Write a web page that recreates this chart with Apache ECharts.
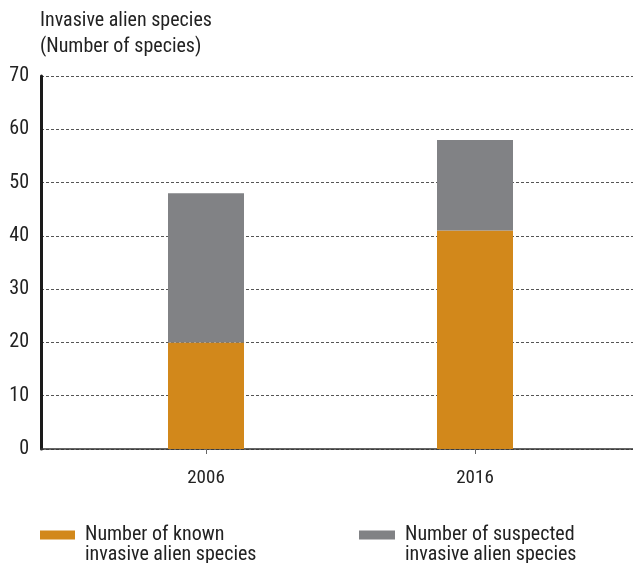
<!DOCTYPE html>
<html>
<head>
<meta charset="utf-8">
<script src="https://cdn.jsdelivr.net/npm/echarts@6/dist/echarts.min.js"></script>
<style>
  html, body { margin: 0; padding: 0; background: #fff; }
  #chart { width: 633px; height: 563px; }
</style>
</head>
<body>
<div id="chart"></div>
<script>
// Survey years and species counts
const years = ['2006', '2016'];
const knownSpecies = [20, 41];
const suspectedSpecies = [28, 17];
const seriesNames = ['Number of known\ninvasive alien species', 'Number of suspected\ninvasive alien species'];
const axisTitle = 'Invasive alien species\n(Number of species)';

const FONT = '"Roboto Condensed", "Liberation Sans Narrow", sans-serif';
const ORANGE = '#d2881b';
const GREY = '#818285';
const TEXT = '#222';

const chart = echarts.init(document.getElementById('chart'), null, { renderer: 'canvas' });

// Shared vertical extent for both grids
const plotTop = 76;
const plotBottom = 114;

const legendText = {
  fontFamily: FONT, fontSize: 20, color: TEXT, lineHeight: 20,
  padding: [0, 0, 0, 5]
};
// a leading empty line keeps the swatch level with the label's first line
const legendFormatter = (name) => '\n' + name;

chart.setOption({
  animation: false,
  backgroundColor: '#fff',
  textStyle: { fontFamily: FONT },
  title: {
    text: axisTitle,
    left: 40,
    top: 8,
    padding: 0,
    textStyle: { fontFamily: FONT, fontSize: 20, fontWeight: 'normal', color: TEXT, lineHeight: 26 }
  },
  grid: [
    // frame grid: value axis, gridlines and baseline
    { left: 41, right: 0, top: plotTop, bottom: plotBottom },
    // bar grid: category bands centred under each survey year
    { left: 71.5, width: 538, top: plotTop, bottom: plotBottom }
  ],
  legend: [
    {
      data: [seriesNames[0]],
      left: 40, top: 505, padding: 0,
      itemWidth: 35, itemHeight: 9,
      icon: 'rect',
      formatter: legendFormatter,
      textStyle: legendText
    },
    {
      data: [seriesNames[1]],
      left: 359, top: 505, padding: 0,
      itemWidth: 36, itemHeight: 9,
      icon: 'rect',
      formatter: legendFormatter,
      textStyle: legendText
    }
  ],
  xAxis: [
    {
      gridIndex: 0,
      type: 'value',
      min: 0, max: 1,
      splitLine: { show: false },
      axisLine: { show: true, onZero: false, lineStyle: { color: '#333', width: 1.5 } },
      axisTick: { show: false },
      axisLabel: { show: false }
    },
    {
      gridIndex: 1,
      type: 'category',
      data: years,
      axisLine: { show: false },
      axisTick: { show: true, alignWithLabel: true, length: 5, lineStyle: { color: '#666', width: 1 } },
      axisLabel: { fontFamily: FONT, fontSize: 19, color: TEXT, margin: 20 }
    }
  ],
  yAxis: [
    {
      gridIndex: 0,
      type: 'value',
      min: 0, max: 70, interval: 10,
      axisLine: { show: true, lineStyle: { color: '#1a1a1a', width: 3 } },
      axisTick: { show: false },
      axisLabel: { fontFamily: FONT, fontSize: 20, color: TEXT, margin: 12 },
      splitLine: { show: true, lineStyle: { color: '#555', width: 1, type: [3, 2] } }
    },
    {
      gridIndex: 1,
      type: 'value',
      min: 0, max: 70, interval: 10,
      show: false
    }
  ],
  series: [
    {
      name: seriesNames[0],
      type: 'bar',
      xAxisIndex: 1, yAxisIndex: 1,
      stack: 'total',
      barWidth: 76,
      itemStyle: { color: ORANGE },
      data: knownSpecies
    },
    {
      name: seriesNames[1],
      type: 'bar',
      xAxisIndex: 1, yAxisIndex: 1,
      stack: 'total',
      barWidth: 76,
      itemStyle: { color: GREY },
      data: suspectedSpecies
    }
  ]
});
</script>
</body>
</html>
